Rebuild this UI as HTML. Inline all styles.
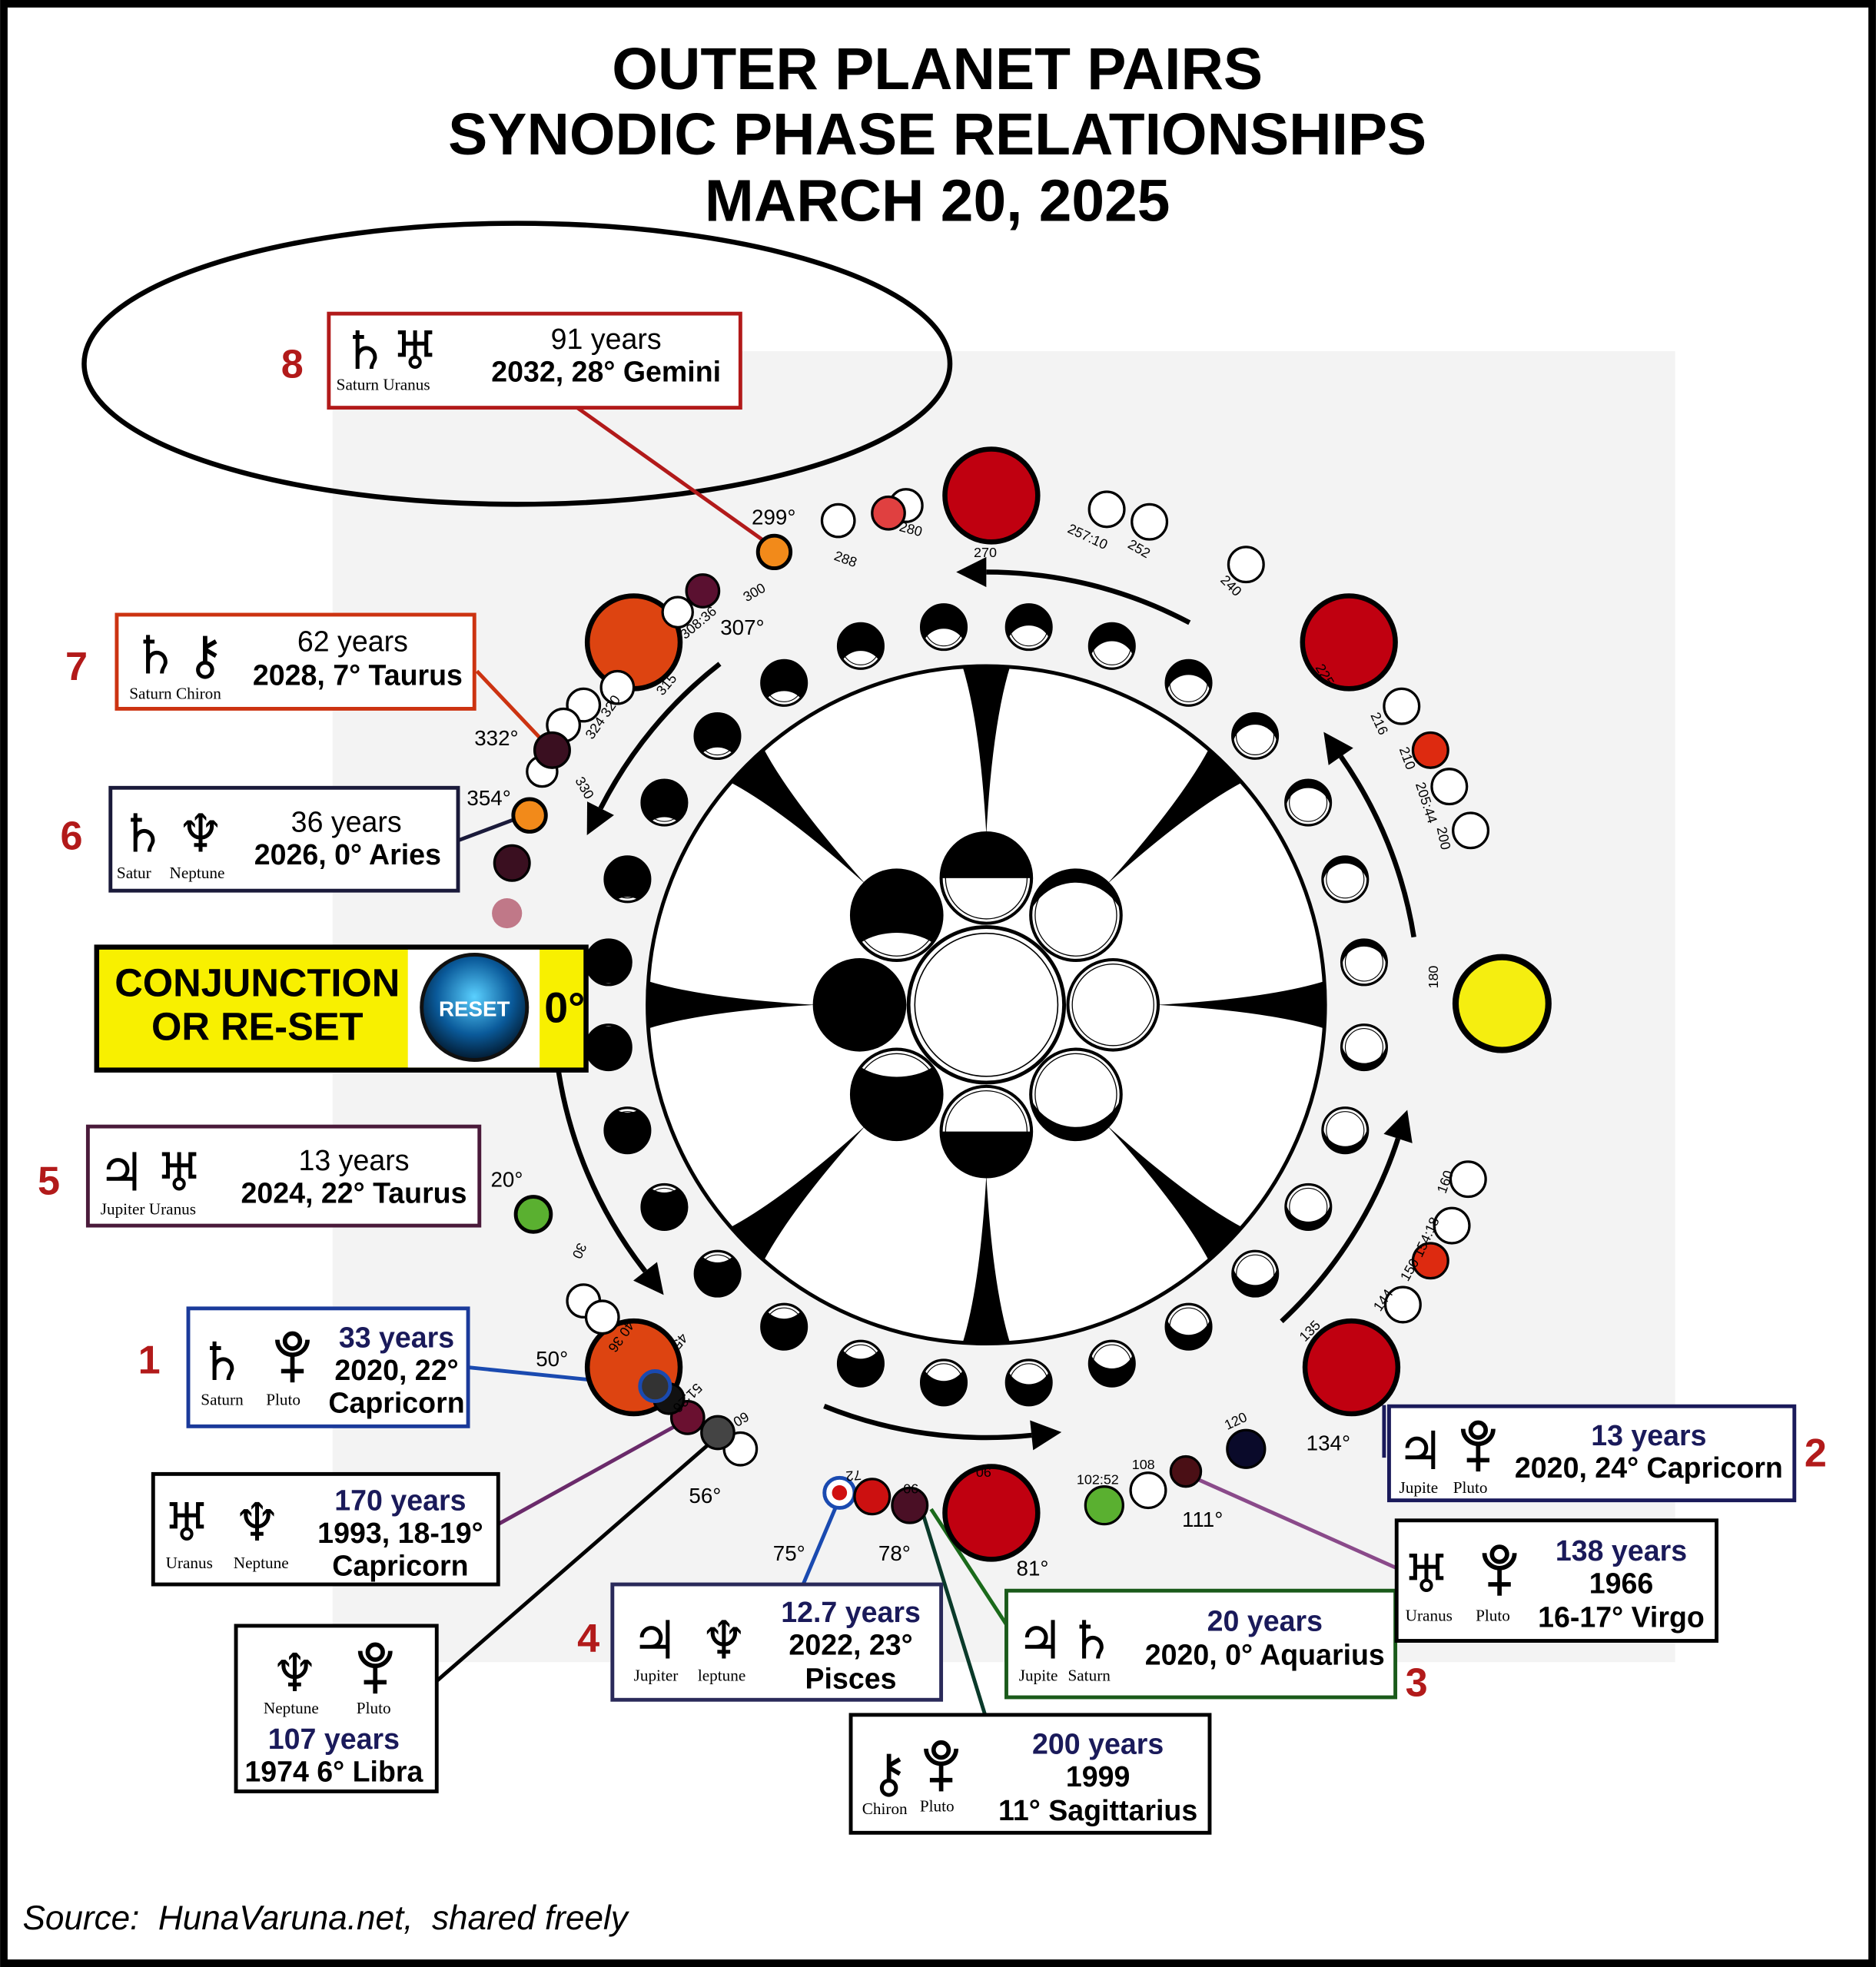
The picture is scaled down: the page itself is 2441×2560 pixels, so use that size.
<!DOCTYPE html>
<html><head><meta charset="utf-8">
<style>
html,body{margin:0;padding:0;background:#fff;}
svg{display:block;}
text{font-family:"Liberation Sans",sans-serif;}
.g{font-family:"DejaVu Sans",sans-serif;font-size:42px;}
.s{font-family:"Liberation Serif",serif;font-size:13px;}
.t{font-size:23px;text-anchor:middle;}
.b{font-size:23px;font-weight:bold;text-anchor:middle;}
.nv{fill:#1a1a5a;}
.n{font-size:32px;font-weight:bold;fill:#b21a1a;}
.d{font-size:17px;}
.sm{font-size:11px;font-family:"Liberation Serif",serif;}
</style></head>
<body>
<svg id="sv" width="2441" height="2560" viewBox="0 0 1495 1568" xmlns="http://www.w3.org/2000/svg">
<defs>
<clipPath id="rc"><circle cx="0" cy="0" r="18"/></clipPath>
<clipPath id="cc"><circle cx="0" cy="0" r="36"/></clipPath>
<radialGradient id="btn" cx="50%" cy="40%" r="60%"><stop offset="0" stop-color="#5ad0ff"/><stop offset="0.6" stop-color="#0a5a9a"/><stop offset="1" stop-color="#021a30"/></radialGradient>
<g id="pl" fill="none" stroke="#000" stroke-width="3.5"><path d="M-12,-34 A12,12 0 0 0 12,-34"/><circle cx="0" cy="-33" r="6"/><line x1="0" y1="-22" x2="0" y2="0"/><line x1="-9" y1="-9" x2="9" y2="-9"/></g>
</defs>
<rect x="0" y="0" width="1495" height="1568" fill="#fff"/>
<rect x="265" y="280" width="1070" height="1045" fill="#f3f3f3"/>
<rect x="3" y="3" width="1489" height="1562" fill="none" stroke="#000" stroke-width="6"/>

<text x="747" y="71" font-size="47" font-weight="bold" text-anchor="middle">OUTER PLANET PAIRS</text>
<text x="747" y="123" font-size="47" font-weight="bold" text-anchor="middle">SYNODIC PHASE RELATIONSHIPS</text>
<text x="747" y="176" font-size="47" font-weight="bold" text-anchor="middle">MARCH 20, 2025</text>

<g id="wheel">
<circle cx="786" cy="801" r="270" fill="#fff"/>
<g id="cusps"></g>
<circle cx="786" cy="801" r="270" fill="none" stroke="#000" stroke-width="3"/>
<g id="cluster"></g>
</g>
<g id="ring"></g>
<g id="arrows"></g>

<ellipse cx="412" cy="290" rx="345" ry="112" fill="none" stroke="#000" stroke-width="4"/>
<line x1="460" y1="325" x2="610" y2="432" stroke="#b21a1a" stroke-width="3"/>
<line x1="380" y1="535" x2="432" y2="590" stroke="#cc3311" stroke-width="3"/>
<line x1="365" y1="670" x2="413" y2="652" stroke="#1a1a3a" stroke-width="3"/>
<line x1="373" y1="1090" x2="520" y2="1105" stroke="#1a4ab0" stroke-width="3"/>
<line x1="397" y1="1215" x2="545" y2="1133" stroke="#6a2a6a" stroke-width="3"/>
<line x1="348" y1="1340" x2="572" y2="1145" stroke="#000" stroke-width="3"/>
<line x1="640" y1="1263" x2="670" y2="1192" stroke="#1a4ab0" stroke-width="3"/>
<line x1="785" y1="1367" x2="735" y2="1205" stroke="#0a3a2a" stroke-width="3"/>
<line x1="802" y1="1295" x2="742" y2="1203" stroke="#1a6a1a" stroke-width="3"/>
<line x1="1103" y1="1120" x2="1103" y2="1162" stroke="#1a1a5a" stroke-width="3"/>
<line x1="1113" y1="1250" x2="945" y2="1175" stroke="#8a4a8a" stroke-width="3"/>

<g stroke="#000" stroke-width="4">
<circle cx="790" cy="395" r="37" fill="#c00010"/>
<circle cx="1075" cy="512" r="37" fill="#c00010"/>
<circle cx="1077" cy="1090" r="37" fill="#c00010"/>
<circle cx="790" cy="1206" r="37" fill="#c00010"/>
<circle cx="505" cy="512" r="37" fill="#dd4411"/>
<circle cx="505" cy="1090" r="37" fill="#dd4411"/>
<circle cx="1197" cy="800" r="37" fill="#f5ee10" stroke-width="5"/>
</g>
<g stroke="#000" stroke-width="2" fill="#fff">
<circle cx="668" cy="415" r="13"/>
<circle cx="722" cy="403" r="13"/>
<circle cx="708" cy="409" r="13" fill="#e04040"/>
<circle cx="882" cy="406" r="14"/>
<circle cx="916" cy="416" r="14"/>
<circle cx="993" cy="450" r="14"/>
<circle cx="540" cy="488" r="12"/>
<circle cx="560" cy="471" r="13" fill="#5a1030"/>
<circle cx="617" cy="440" r="13" fill="#f28a1a" stroke-width="3"/>
<circle cx="492" cy="548" r="13"/>
<circle cx="465" cy="562" r="13"/>
<circle cx="449" cy="578" r="13"/>
<circle cx="432" cy="615" r="12"/>
<circle cx="440" cy="598" r="14" fill="#3a0f20"/>
<circle cx="422" cy="650" r="13" fill="#f28a1a" stroke-width="3"/>
<circle cx="408" cy="688" r="14" fill="#3a0f20"/>
<circle cx="404" cy="728" r="12" fill="#c07888" stroke="none"/>
<circle cx="425" cy="968" r="14" fill="#5ab030" stroke-width="3"/>
<circle cx="465" cy="1037" r="13"/>
<circle cx="480" cy="1050" r="13"/>
<circle cx="590" cy="1155" r="13"/>
<circle cx="572" cy="1142" r="13" fill="#444"/>
<circle cx="548" cy="1130" r="13" fill="#6a1030"/>
<circle cx="533" cy="1115" r="12" fill="#111"/>
<circle cx="522" cy="1105" r="12" fill="#333" stroke="#1a4ab0" stroke-width="3"/>
<circle cx="669" cy="1190" r="12" stroke="#1a4ab0" stroke-width="3"/>
<circle cx="669" cy="1190" r="6" fill="#d01010" stroke="none"/>
<circle cx="695" cy="1193" r="14" fill="#cc1010"/>
<circle cx="725" cy="1200" r="14" fill="#4a0f25"/>
<circle cx="880" cy="1200" r="15" fill="#5ab030"/>
<circle cx="915" cy="1188" r="14"/>
<circle cx="945" cy="1173" r="12" fill="#4a0f15"/>
<circle cx="993" cy="1155" r="15" fill="#0a0a2a"/>
<circle cx="1118" cy="1040" r="14"/>
<circle cx="1140" cy="1005" r="14" fill="#dd2a10"/>
<circle cx="1157" cy="977" r="14"/>
<circle cx="1170" cy="940" r="14"/>
<circle cx="1172" cy="662" r="14"/>
<circle cx="1155" cy="627" r="14"/>
<circle cx="1140" cy="598" r="14" fill="#dd2a10"/>
<circle cx="1117" cy="563" r="14"/>
</g>
<g class="d">
<text x="599" y="418">299°</text>
<text x="574" y="506">307°</text>
<text x="378" y="594">332°</text>
<text x="372" y="642">354°</text>
<text x="391" y="946">20°</text>
<text x="427" y="1089">50°</text>
<text x="549" y="1198">56°</text>
<text x="616" y="1244">75°</text>
<text x="700" y="1244">78°</text>
<text x="810" y="1256">81°</text>
<text x="942" y="1217">111°</text>
<text x="1041" y="1156">134°</text>
</g>
<g class="sm">
<text transform="translate(664,446) rotate(20)">288</text>
<text transform="translate(716,423) rotate(15)">280</text>
<text x="776" y="444">270</text>
<text transform="translate(850,424) rotate(25)">257:10</text>
<text transform="translate(898,436) rotate(30)">252</text>
<text transform="translate(972,463) rotate(45)">240</text>
<text transform="translate(1048,532) rotate(60)">225</text>
<text transform="translate(1092,570) rotate(65)">216</text>
<text transform="translate(1115,597) rotate(70)">210</text>
<text transform="translate(1128,625) rotate(72)">205:44</text>
<text transform="translate(1145,660) rotate(78)">200</text>
<text transform="translate(1146,788) rotate(-90)">180</text>
<text transform="translate(1152,952) rotate(-70)">160</text>
<text transform="translate(1133,1003) rotate(-65)">154:18</text>
<text transform="translate(1122,1022) rotate(-60)">150</text>
<text transform="translate(1100,1046) rotate(-55)">144</text>
<text transform="translate(1040,1070) rotate(-45)">135</text>
<text transform="translate(978,1140) rotate(-25)">120</text>
<text x="858" y="1183">102:52</text>
<text x="902" y="1171">108</text>
<text transform="translate(732,1183) rotate(180)">90</text>
<text transform="translate(790,1170) rotate(180)">90</text>
<text transform="translate(686,1172) rotate(175)">72</text>
<text transform="translate(594,1125) rotate(150)">60</text>
<text transform="translate(555,1102) rotate(135)">51:26</text>
<text transform="translate(543,1062) rotate(130)">45</text>
<text transform="translate(500,1052) rotate(125)">40 36</text>
<text transform="translate(461,990) rotate(115)">30</text>
<text transform="translate(458,622) rotate(60)">330</text>
<text transform="translate(472,590) rotate(-55)">324 320</text>
<text transform="translate(528,555) rotate(-50)">315</text>
<text transform="translate(546,510) rotate(-40)">308:36</text>
<text transform="translate(595,480) rotate(-30)">300</text>
</g>

<rect x="262" y="250" width="328" height="75" fill="#fff" stroke="#b21a1a" stroke-width="3"/>
<text class="g" x="272" y="294">♄</text><text class="g" x="312" y="294">♅</text>
<text class="s" x="268" y="311">Saturn Uranus</text>
<text class="t" x="483" y="278">91 years</text>
<text class="b" x="483" y="304">2032, 28° Gemini</text>
<text class="n" x="224" y="301">8</text>

<rect x="93" y="490" width="285" height="75" fill="#fff" stroke="#cc3311" stroke-width="3"/>
<text class="g" x="105" y="537">♄</text><text class="g" x="148" y="537">⚷</text>
<text class="s" x="103" y="557">Saturn Chiron</text>
<text class="t" x="281" y="519">62 years</text>
<text class="b" x="285" y="546">2028, 7° Taurus</text>
<text class="n" x="52" y="542">7</text>

<rect x="88" y="628" width="277" height="82" fill="#fff" stroke="#1a1a3a" stroke-width="3"/>
<text class="g" x="95" y="679">♄</text><text class="g" x="141" y="679">♆</text>
<text class="s" x="93" y="700">Satur</text><text class="s" x="135" y="700">Neptune</text>
<text class="t" x="276" y="663">36 years</text>
<text class="b" x="277" y="689">2026, 0° Aries</text>
<text class="n" x="48" y="677">6</text>

<rect x="77" y="755" width="390" height="98" fill="#f8f000" stroke="#000" stroke-width="4"/>
<rect x="325" y="757" width="105" height="94" fill="#fff"/>
<text x="205" y="794" font-size="31" font-weight="bold" text-anchor="middle">CONJUNCTION</text>
<text x="205" y="829" font-size="31" font-weight="bold" text-anchor="middle">OR RE-SET</text>
<circle cx="378" cy="803" r="42" fill="url(#btn)" stroke="#111" stroke-width="3"/>
<text x="378" y="810" font-size="17" font-weight="bold" fill="#fff" text-anchor="middle">RESET</text>
<text x="450" y="815" font-size="34" font-weight="bold" text-anchor="middle">0°</text>

<rect x="70" y="898" width="312" height="79" fill="#fff" stroke="#4a1a3a" stroke-width="3"/>
<text class="g" x="78" y="949">♃</text><text class="g" x="124" y="949">♅</text>
<text class="s" x="80" y="968">Jupiter Uranus</text>
<text class="t" x="282" y="933">13 years</text>
<text class="b" x="282" y="959">2024, 22° Taurus</text>
<text class="n" x="30" y="952">5</text>

<rect x="150" y="1043" width="223" height="94" fill="#fff" stroke="#1a3a9a" stroke-width="3"/>
<text class="g" x="158" y="1100">♄</text><use href="#pl" x="233" y="1102"/>
<text class="s" x="160" y="1120">Saturn</text><text class="s" x="212" y="1120">Pluto</text>
<text class="b nv" x="316" y="1074">33 years</text>
<text class="b" x="316" y="1100">2020, 22°</text>
<text class="b" x="316" y="1126">Capricorn</text>
<text class="n" x="110" y="1095">1</text>

<rect x="122" y="1175" width="275" height="88" fill="#fff" stroke="#000" stroke-width="3"/>
<text class="g" x="130" y="1228">♅</text><text class="g" x="186" y="1228">♆</text>
<text class="s" x="132" y="1250">Uranus</text><text class="s" x="186" y="1250">Neptune</text>
<text class="b nv" x="319" y="1204">170 years</text>
<text class="b" x="319" y="1230">1993, 18-19°</text>
<text class="b" x="319" y="1256">Capricorn</text>

<rect x="188" y="1296" width="160" height="132" fill="#fff" stroke="#000" stroke-width="3"/>
<text class="g" x="216" y="1348">♆</text><use href="#pl" x="299" y="1350"/>
<text class="s" x="210" y="1366">Neptune</text><text class="s" x="284" y="1366">Pluto</text>
<text class="b nv" x="266" y="1394">107 years</text>
<text class="b" x="266" y="1420">1974 6° Libra</text>

<rect x="488" y="1263" width="262" height="92" fill="#fff" stroke="#2a2a5a" stroke-width="3"/>
<text class="g" x="503" y="1322">♃</text><text class="g" x="558" y="1322">♆</text>
<text class="s" x="505" y="1340">Jupiter</text><text class="s" x="556" y="1340">leptune</text>
<text class="b nv" x="678" y="1293">12.7 years</text>
<text class="b" x="678" y="1319">2022, 23°</text>
<text class="b" x="678" y="1346">Pisces</text>
<text class="n" x="460" y="1317">4</text>

<rect x="678" y="1367" width="286" height="94" fill="#fff" stroke="#000" stroke-width="3"/>
<text class="g" x="693" y="1428">⚷</text><use href="#pl" x="750" y="1428"/>
<text class="s" x="687" y="1446">Chiron</text><text class="s" x="733" y="1444">Pluto</text>
<text class="b nv" x="875" y="1398">200 years</text>
<text class="b" x="875" y="1424">1999</text>
<text class="b" x="875" y="1451">11° Sagittarius</text>

<rect x="802" y="1268" width="310" height="85" fill="#fff" stroke="#1a5a1a" stroke-width="3"/>
<text class="g" x="810" y="1322">♃</text><text class="g" x="851" y="1322">♄</text>
<text class="s" x="812" y="1340">Jupite</text><text class="s" x="851" y="1340">Saturn</text>
<text class="b nv" x="1008" y="1300">20 years</text>
<text class="b" x="1008" y="1327">2020, 0° Aquarius</text>
<text class="n" x="1120" y="1352">3</text>

<rect x="1107" y="1121" width="323" height="75" fill="#fff" stroke="#1a1a5a" stroke-width="3"/>
<text class="g" x="1113" y="1171">♃</text><use href="#pl" x="1178" y="1173"/>
<text class="s" x="1115" y="1190">Jupite</text><text class="s" x="1158" y="1190">Pluto</text>
<text class="b nv" x="1314" y="1152">13 years</text>
<text class="b" x="1314" y="1178">2020, 24° Capricorn</text>
<text class="n" x="1438" y="1169">2</text>

<rect x="1113" y="1212" width="255" height="96" fill="#fff" stroke="#000" stroke-width="3"/>
<text class="g" x="1118" y="1269">♅</text><use href="#pl" x="1195" y="1272"/>
<text class="s" x="1120" y="1292">Uranus</text><text class="s" x="1176" y="1292">Pluto</text>
<text class="b nv" x="1292" y="1244">138 years</text>
<text class="b" x="1292" y="1270">1966</text>
<text class="b" x="1292" y="1297">16-17° Virgo</text>

<text x="18" y="1538" font-size="27" font-style="italic" style="white-space:pre">Source:  HunaVaruna.net,  shared freely</text>
</svg>
<script>
(function(){
var NS="http://www.w3.org/2000/svg",CX=786,CY=801;
function el(t,a,p){var e=document.createElementNS(NS,t);for(var k in a)e.setAttribute(k,a[k]);p.appendChild(e);return e;}
function P(r,a){return (CX+r*Math.cos(a)).toFixed(1)+','+(CY+r*Math.sin(a)).toFixed(1);}
var cu=document.getElementById('cusps');
for(var k=0;k<8;k++){var a=45*k*Math.PI/180,dl=19/270;
 var tip=P(136,a),r1=P(271,a+dl),r2=P(271,a-dl);
 var c1=P(225,a+5/225),c2=P(225,a-5/225);
 el('path',{d:'M'+tip+' Q'+c1+' '+r1+' L'+r2+' Q'+c2+' '+tip+'Z',fill:'#000'},cu);}
var cl=document.getElementById('cluster');
el('circle',{cx:CX,cy:CY,r:62,fill:'#fff',stroke:'#000','stroke-width':3},cl);
el('circle',{cx:CX,cy:CY,r:57,fill:'none',stroke:'#000','stroke-width':1},cl);
var specs=[[0,'white'],[-45,'cresTop'],[-90,'topHalf'],[-135,'gibTop'],[180,'full'],[135,'gibBot'],[90,'botHalf'],[45,'cresBot']];
specs.forEach(function(s){var a=s[0]*Math.PI/180,x=CX+101*Math.cos(a),y=CY+101*Math.sin(a);
 var g=el('g',{transform:'translate('+x+','+y+')'},cl);
 el('circle',{cx:0,cy:0,r:36,fill:'#fff'},g);
 var ig=el('g',{'clip-path':'url(#cc)'},g);
 var t=s[1];
 if(t=='full')el('circle',{cx:0,cy:0,r:36,fill:'#000'},ig);
 if(t=='topHalf')el('rect',{x:-40,y:-40,width:80,height:40,fill:'#000'},ig);
 if(t=='botHalf')el('rect',{x:-40,y:0,width:80,height:40,fill:'#000'},ig);
 if(t=='gibTop'){el('circle',{cx:0,cy:0,r:36,fill:'#000'},ig);el('ellipse',{cx:0,cy:40,rx:40,ry:26,fill:'#fff'},ig);}
 if(t=='gibBot'){el('circle',{cx:0,cy:0,r:36,fill:'#000'},ig);el('ellipse',{cx:0,cy:-40,rx:40,ry:26,fill:'#fff'},ig);}
 if(t=='cresTop'){el('circle',{cx:0,cy:0,r:36,fill:'#000'},ig);el('ellipse',{cx:0,cy:14,rx:40,ry:40,fill:'#fff'},ig);}
 if(t=='cresBot'){el('circle',{cx:0,cy:0,r:36,fill:'#000'},ig);el('ellipse',{cx:0,cy:-14,rx:40,ry:40,fill:'#fff'},ig);}
 el('circle',{cx:0,cy:0,r:36,fill:'none',stroke:'#000','stroke-width':2.5},g);
 el('circle',{cx:0,cy:0,r:32.5,fill:'none',stroke:'#000','stroke-width':0.8},g);
});
var ring=document.getElementById('ring'),R=18;
for(var i=0;i<28;i++){var th=(6.4286+12.857*i)*Math.PI/180;
 var dx=Math.cos(th),dy=Math.sin(th),x=CX+303*dx,y=CY+303*dy;
 var phi=Math.acos(-dx)*180/Math.PI;
 var s=2*R*(1-phi/180); if(s<0.3*R)s=0.3*R;
 var dir=dy<0?1:-1;
 var g=el('g',{transform:'translate('+x.toFixed(1)+','+y.toFixed(1)+')'},ring);
 el('circle',{cx:0,cy:0,r:R,fill:'#fff'},g);
 var ig=el('g',{'clip-path':'url(#rc)'},g);
 el('circle',{cx:0,cy:0,r:R,fill:'#000'},ig);
 el('circle',{cx:0,cy:dir*s,r:R,fill:'#fff'},ig);
 el('circle',{cx:0,cy:0,r:R,fill:'none',stroke:'#000','stroke-width':2},g);
 el('circle',{cx:0,cy:0,r:R-3,fill:'none',stroke:'#000','stroke-width':0.7},g);
}
var ar=document.getElementById('arrows'),AR=345;
[[-62,-90],[-128,-153],[175,142],[112,84],[47,18],[-9,-35]].forEach(function(p){
 var a0=p[0]*Math.PI/180,a1=p[1]*Math.PI/180;
 var x0=CX+AR*Math.cos(a0),y0=CY+AR*Math.sin(a0),x1=CX+AR*Math.cos(a1),y1=CY+AR*Math.sin(a1);
 el('path',{d:'M'+x0+','+y0+' A'+AR+','+AR+' 0 0 0 '+x1+','+y1,fill:'none',stroke:'#000','stroke-width':4},ar);
 var tx=Math.sin(a1),ty=-Math.cos(a1),nx=Math.cos(a1),ny=Math.sin(a1);
 var hx=x1+tx*24,hy=y1+ty*24;
 el('polygon',{points:hx+','+hy+' '+(x1+nx*12)+','+(y1+ny*12)+' '+(x1-nx*12)+','+(y1-ny*12),fill:'#000'},ar);
});
})();
</script>
</body></html>
